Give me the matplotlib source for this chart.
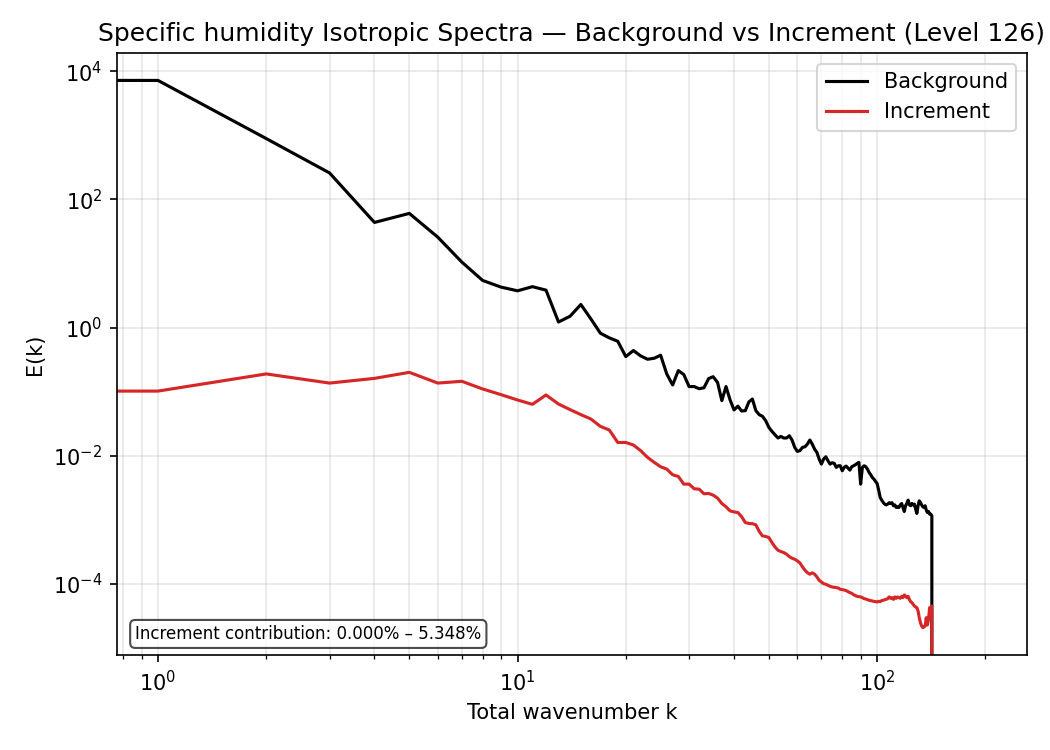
import matplotlib
matplotlib.use("Agg")
import matplotlib.pyplot as plt
import numpy as np

wavenumber = list(range(0, 144))

background = [
    7160, 7160, 887, 258, 43.6, 60.3, 25.7, 10.5, 5.42, 4.27,
    3.74, 4.34, 3.83, 1.22, 1.50, 2.29, 1.36, 0.815, 0.690, 0.611,
    0.352, 0.438, 0.361, 0.320, 0.332, 0.370, 0.189, 0.127, 0.213, 0.185,
    0.120, 0.120, 0.111, 0.115, 0.160, 0.171, 0.139, 0.0723, 0.120, 0.0745,
    0.0518, 0.0594, 0.0499, 0.0505, 0.0692, 0.0767, 0.0505, 0.0438, 0.0412, 0.0352,
    0.0277, 0.0240, 0.0213, 0.0189, 0.0200, 0.0189, 0.0189, 0.0205, 0.0176, 0.0135,
    0.0117, 0.0120, 0.0135, 0.0138, 0.0152, 0.0176, 0.0152, 0.0127, 0.0113, 0.00887,
    0.00741, 0.00887, 0.00964, 0.00836, 0.00741, 0.00778, 0.00759, 0.00658, 0.00698, 0.00698,
    0.00583, 0.00658, 0.00690, 0.00641, 0.00597, 0.00673, 0.00698, 0.00723, 0.00759, 0.00787,
    0.00361, 0.00658, 0.00698, 0.00673, 0.00619, 0.00550, 0.00505, 0.00458, 0.00432, 0.00397,
    0.00370, 0.00291, 0.00223, 0.00203, 0.00187, 0.00176, 0.00171, 0.00176, 0.00185, 0.00180,
    0.00185, 0.00166, 0.00171, 0.00156, 0.00160, 0.00156, 0.00171, 0.00180, 0.00156, 0.00135,
    0.00166, 0.00180, 0.00203, 0.00171, 0.00166, 0.00180, 0.00171, 0.00176, 0.00147, 0.00126,
    0.00166, 0.00198, 0.00187, 0.00171, 0.00160, 0.00156, 0.00166, 0.00142, 0.00130, 0.00135,
    0.00123, 0.00123, 0.00115, 0.0,
]

increment = [
    0.102, 0.102, 0.189, 0.136, 0.161, 0.200, 0.136, 0.145, 0.110, 0.0897,
    0.0741, 0.0634, 0.0887, 0.0641, 0.0524, 0.0438, 0.0374, 0.0287, 0.0252, 0.0161,
    0.0161, 0.0147, 0.0120, 0.00942, 0.00787, 0.00673, 0.00619, 0.00505, 0.00475, 0.00361,
    0.00361, 0.00305, 0.00301, 0.00255, 0.00258, 0.00243, 0.00218, 0.00180, 0.00160, 0.00138,
    0.00133, 0.00130, 0.00112, 0.000908, 0.000877, 0.000871, 0.000836, 0.000661, 0.000562, 0.000550,
    0.000530, 0.000443, 0.000378, 0.000336, 0.000320, 0.000309, 0.000291, 0.000267, 0.000252, 0.000243,
    0.000229, 0.000213, 0.000185, 0.000164, 0.000150, 0.000142, 0.000149, 0.000142, 0.000129, 0.000114,
    0.000107, 0.000101, 9.89e-5, 9.53e-5, 9.20e-5, 8.97e-5, 8.87e-5, 8.77e-5, 8.65e-5, 8.26e-5,
    8.15e-5, 8.05e-5, 7.87e-5, 7.59e-5, 7.33e-5, 7.14e-5, 6.81e-5, 6.58e-5, 6.41e-5, 6.34e-5,
    6.27e-5, 6.11e-5, 5.90e-5, 5.83e-5, 5.69e-5, 5.56e-5, 5.50e-5, 5.42e-5, 5.36e-5, 5.30e-5,
    5.24e-5, 5.36e-5, 5.30e-5, 5.50e-5, 5.56e-5, 5.69e-5, 5.75e-5, 5.90e-5, 6.27e-5, 5.97e-5,
    6.11e-5, 5.75e-5, 6.27e-5, 5.97e-5, 6.27e-5, 6.11e-5, 5.97e-5, 6.41e-5, 6.11e-5, 6.73e-5,
    6.49e-5, 6.11e-5, 6.41e-5, 5.69e-5, 5.30e-5, 5.11e-5, 4.81e-5, 4.53e-5, 4.38e-5, 4.27e-5,
    3.78e-5, 2.98e-5, 2.49e-5, 2.21e-5, 2.08e-5, 2.13e-5, 2.21e-5, 2.98e-5, 2.29e-5, 2.81e-5,
    4.27e-5, 4.27e-5, 4.53e-5, 0.0,
]

title = "Specific humidity Isotropic Spectra \u2014 Background vs Increment (Level 126)"
note = "Increment contribution: 0.000% \u2013 5.348%"

fig = plt.figure(figsize=(7, 5), dpi=150)
ax = fig.add_axes([0.1114, 0.1267, 0.978 - 0.1114, 0.929 - 0.1267])

ax.loglog(wavenumber, background, color="black", lw=1.5, label="Background")
ax.loglog(wavenumber, increment, color="#d62728", lw=1.5, label="Increment")

ax.set_xlim(0.769, 261)
ax.set_ylim(7.8e-6, 1.9e4)
ax.grid(True, which="both", alpha=0.3)
ax.set_xlabel("Total wavenumber k")
ax.set_ylabel("E(k)")
ax.set_title(title)
ax.legend(loc="upper right")
ax.text(0.02, 0.02, note, transform=ax.transAxes, fontsize=8,
        va="bottom", ha="left",
        bbox=dict(boxstyle="round", facecolor="white", alpha=0.7))

fig.savefig("out.png", dpi=150)
